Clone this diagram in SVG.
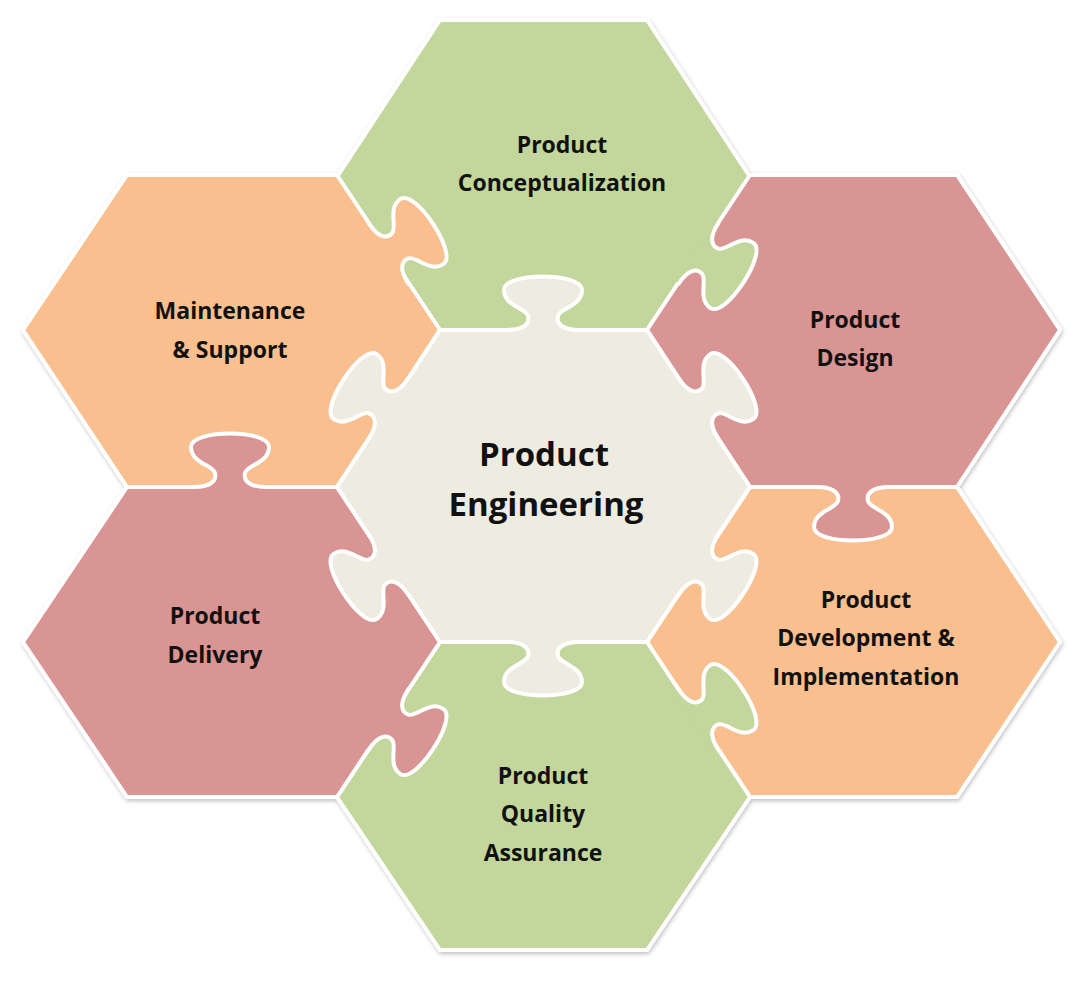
<svg xmlns="http://www.w3.org/2000/svg" width="1084" height="993" viewBox="0 0 1084 993">
<style>
.hex{stroke:#fff;stroke-width:4;stroke-linejoin:round}
.ks{fill:none;stroke:#fff;stroke-width:4;stroke-linecap:round}
.g{fill:#C3D69B}.o{fill:#F9BF8F}.p{fill:#D99594}.c{fill:#EEECE1}
text{font-family:"Open Sans","Liberation Sans",sans-serif;font-weight:bold;fill:#111;text-anchor:middle}
.t{font-size:23px}.big{font-size:33px}
</style>
<defs>
<path id="kf" d="M -36,5 L -36,0 C -20,0 -13,-6 -15,-14 C -17,-22 -39,-24 -39,-40 C -39,-58 39,-58 39,-40 C 39,-24 17,-22 15,-14 C 13,-6 20,0 36,0 L 36,5 Z"/>
<path id="ko" d="M -36,0 C -20,0 -13,-6 -15,-14 C -17,-22 -39,-24 -39,-40 C -39,-58 39,-58 39,-40 C 39,-24 17,-22 15,-14 C 13,-6 20,0 36,0"/>
<filter id="sh" x="-10%" y="-10%" width="120%" height="120%"><feDropShadow dx="1" dy="2" stdDeviation="2" flood-opacity="0.25"/></filter>
</defs>
<rect width="1084" height="993" fill="#fff"/>
<g filter="url(#sh)">
<g id="top"><polygon class="hex g" points="440,20 647,20 750,177 647,330 440,330 337,177"/></g>
<g id="design"><polygon class="hex p" points="750,175 957,175 1060,330 957,487 750,487 647,330"/></g>
<g id="development"><polygon class="hex o" points="750,487 957,487 1060,642 957,797 750,797 647,642"/></g>
<g id="qa"><polygon class="hex g" points="440,642 647,642 750,797 647,950 440,950 337,797"/></g>
<g id="delivery"><polygon class="hex p" points="127,487 337,487 440,642 337,797 127,797 23,642"/></g>
<g id="maintenance"><polygon class="hex o" points="127,175 337,175 440,330 337,487 127,487 23,330"/></g>
<g id="center"><polygon class="hex c" points="440,330 647,330 750,487 647,642 440,642 337,487"/></g>
</g>
<g id="connectors">
<g transform="translate(388.5,253.5) rotate(56.7)"><use href="#kf" class="o"/><use href="#ko" class="ks"/></g>
<g transform="translate(698.5,253.5) rotate(123.3)"><use href="#kf" class="g"/><use href="#ko" class="ks"/></g>
<g transform="translate(853,487) rotate(180)"><use href="#kf" class="p"/><use href="#ko" class="ks"/></g>
<g transform="translate(698.5,719.5) rotate(56.7)"><use href="#kf" class="g"/><use href="#ko" class="ks"/></g>
<g transform="translate(388.5,719.5) rotate(123.3)"><use href="#kf" class="p"/><use href="#ko" class="ks"/></g>
<g transform="translate(230,487)"><use href="#kf" class="p"/><use href="#ko" class="ks"/></g>
<g transform="translate(543,330)"><use href="#kf" class="c"/><use href="#ko" class="ks"/></g>
<g transform="translate(543,642) rotate(180)"><use href="#kf" class="c"/><use href="#ko" class="ks"/></g>
<g transform="translate(698.5,408.5) rotate(56.7)"><use href="#kf" class="c"/><use href="#ko" class="ks"/></g>
<g transform="translate(698.5,564.5) rotate(123.3)"><use href="#kf" class="c"/><use href="#ko" class="ks"/></g>
<g transform="translate(388.5,408.5) rotate(-56.7)"><use href="#kf" class="c"/><use href="#ko" class="ks"/></g>
<g transform="translate(388.5,564.5) rotate(-123.3)"><use href="#kf" class="c"/><use href="#ko" class="ks"/></g>
</g>
<g id="labels">
<text class="t" x="562" y="153">Product</text>
<text class="t" x="562" y="191">Conceptualization</text>
<text class="t" x="855" y="328">Product</text>
<text class="t" x="855" y="366">Design</text>
<text class="t" x="230" y="319">Maintenance</text>
<text class="t" x="230" y="358">&amp; Support</text>
<text class="big" x="544" y="466">Product</text>
<text class="big" x="546" y="516">Engineering</text>
<text class="t" x="215" y="624">Product</text>
<text class="t" x="215" y="663">Delivery</text>
<text class="t" x="866" y="608">Product</text>
<text class="t" x="866" y="646">Development &amp;</text>
<text class="t" x="866" y="685">Implementation</text>
<text class="t" x="543" y="784">Product</text>
<text class="t" x="543" y="822">Quality</text>
<text class="t" x="543" y="861">Assurance</text>
</g>
</svg>
